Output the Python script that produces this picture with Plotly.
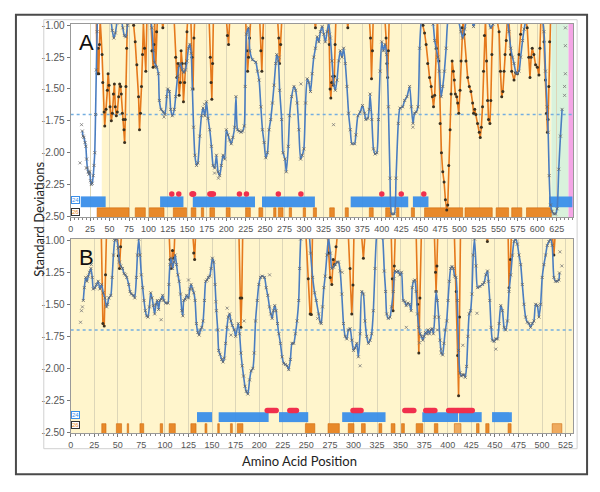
import plotly.graph_objects as go

# ---------------- Panel A data ----------------
A_BLUE = [(15,-1.83),(16,-1.87),(17,-1.88),(18.5,-1.92),(19.5,-1.95),(20.5,-2.05),(21.5,-2.12),(22.5,-2.15),
 (23.5,-2.17),(24.5,-2.15),(25.5,-2.22),(26.5,-2.25),(27.7,-2.24),(29,-2.18),(30,-2.10),(31,-2.0),(32,-1.70),
 (33,-1.35),(34,-1.05),(35.5,-0.85),(40,-0.80),(46,-0.85),(51,-0.93),(53.5,-1.04),(55.5,-1.10),(57.5,-1.06),
 (59.5,-0.98),(62,-0.92),(65,-0.95),(67,-1.02),(69,-1.08),(71,-1.09),(73,-1.0),(75,-0.9),(85,-0.8),(97,-0.85),
 (102,-0.92),(104.3,-1.02),(106.4,-1.20),(107.7,-1.29),(110.7,-1.33),(112.8,-1.38),(114,-1.59),(116.2,-1.66),
 (119.2,-1.68),(121.3,-1.70),(123.5,-1.56),(124.7,-1.50),(126.9,-1.52),(128.6,-1.66),(130.7,-1.71),(133.3,-1.66),
 (135,-1.56),(137.5,-1.40),(139.5,-1.32),(141.5,-1.30),(143.5,-1.35),(145.5,-1.37),(147.5,-1.35),(149.5,-1.28),
 (151.5,-1.18),(153.3,-1.15),(155,-1.22),(156.5,-1.50),(158,-1.80),(159.7,-2.02),(161.8,-2.10),(163.5,-2.08),
 (166,-1.87),(168.2,-1.71),(170.3,-1.65),(172.5,-1.71),(174.6,-1.60),(176.7,-1.73),(178.8,-1.82),(181,-1.95),
 (183.1,-2.10),(185.2,-2.12),(187.4,-2.02),(189.5,-2.15),(191.6,-2.18),(193.7,-2.10),(195.9,-2.02),(198,-2.05),
 (200.1,-1.82),(202.2,-1.86),(204.4,-1.90),(206.5,-1.93),(208.6,-1.88),(210.8,-1.80),(212.5,-1.56),(214.6,-1.82),
 (216.8,-1.83),(219,-1.84),(221,-1.83),(223.2,-1.79),(224.4,-1.48),(226.1,-1.07),(228.7,-1.02),(230.4,-1.20),
 (233.8,-1.27),(238,-1.29),(240.2,-1.36),(242.3,-1.43),(244.5,-1.64),(246.6,-1.82),(248.7,-1.92),(250.8,-2.04),
 (253,-2.00),(255.1,-1.82),(257.2,-1.74),(259.4,-1.61),(261.5,-1.47),(263.6,-1.30),(264.9,-1.23),(267,-1.28),
 (268.7,-1.51),(271.3,-1.74),(273,-2.00),(275.5,-2.05),(277.3,-2.15),(279.8,-1.95),(281.5,-1.71),(284.1,-1.56),
 (287.1,-1.48),(289.2,-1.51),(291.3,-1.61),(293.4,-1.82),(295.6,-2.05),(297.7,-2.02),(299.8,-1.97),(302,-1.61),
 (304.1,-1.42),(306.2,-1.45),(308.4,-1.52),(310.5,-1.38),(312.6,-1.25),(314.7,-1.18),(316.9,-1.09),(319,-1.13),
 (321.1,-1.05),(323.3,-1.01),(325.4,-1.07),(327.5,-1.13),(329.7,-1.05),(331.8,-0.98),(333.9,-1.10),(336,-1.28),
 (338.2,-1.46),(340.3,-1.51),(342.4,-1.43),(344.6,-1.28),(346.7,-1.20),(348.8,-1.25),(351,-1.18),(353.1,-1.30),
 (355.2,-1.48),(357.3,-1.69),(359.5,-1.82),(361.6,-1.93),(365,-1.93),(366.7,-1.86),(369.3,-1.71),(372.3,-1.68),
 (375.2,-1.63),(377.8,-1.69),(379.5,-1.74),(382,-1.73),(383.8,-1.66),(385,-1.54),(387.2,-1.74),(389.3,-1.97),
 (391.4,-2.01),(393.6,-2.00),(395.7,-1.74),(397.8,-1.36),(399.9,-1.13),(402.1,-1.20),(404.2,-1.15),(406.3,-1.23),
 (408.5,-1.64),(410.6,-2.20),(412.7,-2.48),(416.1,-2.48),(418.3,-2.20),(421.2,-1.77),(423.4,-1.65),(426.8,-1.64),
 (429.4,-1.59),(432.4,-1.56),(435.8,-1.48),(438,-1.64),(440.1,-1.77),(442.2,-1.69),(444.3,-1.68),(446.5,-1.64),
 (448.6,-1.18),(450.7,-0.97),(455,-0.85),(462,-0.9),(466,-0.99),(468,-1.12),(470,-1.18),(472,-1.25),(474,-1.36),
 (476.3,-1.56),(478.4,-1.48),(480.5,-1.36),(482.7,-1.18),(484.8,-0.97),(490,-0.85),(498,-0.95),(501.8,-1.05),
 (504,-1.10),(506.5,-1.03),(509,-0.96),(513,-0.93),(516,-0.97),(518,-1.01),(521,-0.95),(530,-0.85),(537,-0.96),
 (540,-1.02),(543,-0.99),(550,-0.88),(560,-0.92),(563.5,-1.05),(565.8,-1.18),(568,-1.25),(570,-1.30),(573,-1.38),
 (576.4,-1.36),(578.5,-1.25),(581,-1.12),(583,-1.03),(585,-0.97),(595,-0.85),(605,-0.9),(608.5,-1.05),
 (610.5,-1.36),(612.6,-1.64),(613.9,-1.84),(615.2,-2.18),(616.9,-2.41),(619,-2.46),(621,-2.48),(623.3,-2.48),
 (625.4,-2.44),(627.5,-2.13),(629.7,-1.87),(631.8,-1.66)]

A_LOOSE = [(636,-1.02),(636,-1.16),(636,-1.38),(635,-1.48),(635,-1.55),(14,-1.78),(12,-2.08),(20,-2.12),
 (120,-1.72),(172,-1.62),(185,-2.16),(190,-2.20),(268,-1.25),(296,-1.46),(333,-1.07),(338,-1.78),(440,-1.80)]

A_ORANGE = [
 [(33,-0.95),(34,-1.38),(35.3,-1.18),(36.1,-1.38),(37,-1.15),(38,-0.95),(40.4,-1.23),(41.3,-1.45),(43,-1.68),
  (43.8,-1.79),(45.5,-1.66),(47.2,-1.51),(48.1,-1.38),(49.3,-1.47),(50.6,-1.64),(52.3,-1.75),(53.6,-1.69),
  (54.9,-1.54),(56.2,-1.46),(57.4,-1.64),(58.7,-1.71),(60,-1.68),(61.7,-1.56),(63,-1.46),(64.3,-1.48),
  (65.1,-1.54),(66.4,-1.69),(67.7,-1.74),(68.5,-1.82),(69.4,-1.92),(70.2,-1.74),(71.1,-1.48),(72,-1.18),
  (73,-0.95),(76,-0.9),(79,-0.95),(81,-1.0),(83,-1.13),(85.1,-1.31),(87.3,-1.56),(88.5,-1.82),(89.8,-1.69),
  (91.1,-1.48),(92.4,-1.23),(93.5,-0.98),(95,-1.18),(96.6,-1.36),(98,-0.95)],
 [(103,-0.95),(104.5,-1.20),(106,-1.33),(107,-1.15),(108,-0.98),(109.4,-1.32),(110.5,-1.05),(111.5,-0.95)],
 [(117,-0.95),(118.5,-1.02),(120,-0.95)],
 [(133,-0.95),(135,-1.25),(136.5,-1.41),(138,-1.30),(139.5,-1.55),(141,-1.45),(142,-1.20),(143.5,-1.30),
  (145,-1.60),(146.5,-1.45),(148,-1.30),(149.5,-1.05),(150.5,-0.95)],
 [(154.5,-0.95),(156,-1.25),(157.3,-1.50),(158.5,-1.10),(159.5,-0.95)],
 [(178,-0.95),(179.5,-1.25),(180.5,-1.45),(181.5,-1.58),(182.5,-1.30),(183.5,-0.95)],
 [(200,-0.95),(201.5,-1.08),(203,-1.15),(204.5,-0.95)],
 [(225,-0.95),(226.5,-1.20),(227.5,-1.36),(228.7,-1.25),(230,-1.10),(231.5,-0.95)],
 [(243,-0.95),(244.5,-1.20),(245.8,-1.36),(247,-1.10),(248,-0.95)],
 [(266,-0.95),(267.5,-1.10),(268.5,-1.30),(270,-1.15),(271.5,-0.95)],
 [(313,-0.95),(314.7,-1.02),(316,-0.95)],
 [(331,-0.95),(332.5,-1.15),(333.5,-1.50),(334.5,-1.57),(335.5,-1.45),(337,-1.40),(338,-1.47),(339,-1.40),
  (340,-1.15),(341,-0.95)],
 [(355,-0.95),(356.3,-1.02),(357.5,-0.95)],
 [(384,-0.95),(385.5,-1.10),(386.8,-1.42),(388,-1.20),(389,-0.95)],
 [(404,-0.95),(405.5,-1.10),(406.5,-1.30),(407.5,-1.41),(408.5,-1.20),(409.5,-0.95)],
 [(450.7,-0.95),(453,-1.00),(455,-1.06),(457,-1.15),(459,-1.30),(461.4,-1.41),(463.5,-1.48),(465,-1.56),
  (466.5,-1.64),(468,-1.55),(470,-1.18),(471.5,-0.95),(473.3,-1.28),(475,-1.77),(476.7,-2.00),(478.4,-2.15),
  (480.1,-2.23),(481.8,-2.37),(483.5,-2.45),(484.8,-2.41),(486.1,-2.10),(487.8,-1.82),(489.1,-1.54),
  (490.4,-1.28),(492,-1.36),(493.3,-1.43),(494.6,-1.54),(496.3,-1.56),(497.6,-1.61),(498.9,-1.69),
  (500.6,-1.51),(501.9,-1.28),(503,-1.02),(504.5,-0.95),(506,-1.07),(508.2,-1.28),(510.4,-1.41),(512.5,-1.48),
  (514.6,-1.52),(516.8,-1.61),(518,-1.69),(519.5,-1.66),(521,-1.70),(523.1,-1.77),(525.3,-1.84),(526.6,-1.88),
  (528,-1.80),(529.5,-1.64),(530.8,-1.36),(532,-1.08),(533.3,-0.95),(534.7,-1.28),(536,-1.59),(537.2,-1.74),
  (539,-1.77),(540.2,-1.59),(541.5,-1.23),(543,-0.95),(547,-0.92),(550.8,-1.05),(552.5,-1.36),(554.2,-1.56),
  (555.7,-1.52),(557.2,-1.36),(558.5,-1.23),(560,-1.12),(561.5,-0.95),(563.5,-0.97),(565.5,-1.23),(567,-1.36),
  (570,-1.43),(572.1,-1.37),(574.3,-1.38),(576.4,-1.23),(578.5,-1.07),(580,-0.95),(584,-0.92),(587,-1.02),
  (589,-1.25),(590.5,-1.41),(592,-1.25),(593.4,-1.18),(595.5,-1.23),(597.7,-1.31),(600,-1.33),(602,-1.39),
  (603.3,-1.18),(604.5,-0.95),(607,-0.92),(608.5,-1.13),(610.5,-1.43),(611.8,-1.69),(613,-1.84),(613.8,-1.74),
  (614.7,-1.48),(615.8,-1.13),(617,-0.95)]]

A_BLUE_BAND = [(13,45),(115,145),(157,237),(246,314),(360,434),(440,460),(615,645)]
A_ORANGE_BAND = [(34,75),(83,96),(101,120),(132,149),(155,161),(168,171),(179,185),(200,205),(225,231),
 (242,247),(261,264),(267,273),(281,284),(299,302),(312,316),(333,339),(353,357),(384,389),(405,412),
 (419,422),(438,442),(455,504),(507,542),(547,563),(567,580),(586,618)]
A_RED = [(130,130),(139,139),(156,158),(179,183.5),(217,217),(226,226),(267,267),(296,296),(400,400),(425,425),(454,454)]
A_REGIONS = [(0,40,'#ffffff'),(40,618,'#fff5cc'),(618,640,'#d9f2dc'),(640,646,'#f4a6e6')]

# ---------------- Panel B data ----------------
B_BLUE = [(13.4,-1.47),(14.5,-1.37),(15.9,-1.29),(17.3,-1.32),(18.7,-1.28),(20,-1.25),(21.5,-1.22),(22.9,-1.29),
 (24,-1.38),(25.7,-1.37),(27.5,-1.345),(29.2,-1.32),(31,-1.38),(32.8,-1.345),(34.5,-1.41),(36.3,-1.45),(38,-1.52),
 (39.1,-1.50),(40.5,-1.45),(42.6,-1.43),(44,-1.29),(45.4,-1.115),(46.9,-1.00),(48.6,-0.99),(50.4,-1.06),
 (51.8,-1.17),(53.2,-1.20),(55,-1.22),(56.7,-1.26),(58.1,-1.27),(59.5,-1.29),(61.6,-1.345),(63,-1.40),
 (64.4,-1.42),(66.6,-1.43),(68,-1.45),(69.7,-1.29),(70.8,-1.115),(72.2,-0.99),(73.6,-1.115),(75,-1.27),
 (76.4,-1.37),(77.8,-1.47),(79.2,-1.55),(80.6,-1.59),(82,-1.60),(83.5,-1.52),(84.9,-1.41),(86.3,-1.45),
 (87.7,-1.51),(89.1,-1.575),(90.5,-1.50),(91.9,-1.47),(93.3,-1.54),(94.7,-1.47),(96.1,-1.46),(97.5,-1.43),
 (98.9,-1.47),(101,-1.49),(103.2,-1.49),(104.2,-1.345),(105.3,-1.19),(106.7,-1.14),(108.1,-1.22),(109.5,-1.17),
 (110.9,-1.115),(112.3,-1.19),(113.7,-1.27),(115.1,-1.32),(116.5,-1.42),(117.9,-1.55),(119,-1.59),(120,-1.47),
 (121.5,-1.46),(122.9,-1.43),(125,-1.45),(126.4,-1.38),(127.8,-1.345),(129.2,-1.38),(130.6,-1.41),(132,-1.47),
 (133.4,-1.65),(134.9,-1.72),(136.3,-1.74),(137.7,-1.70),(139.1,-1.68),(140.5,-1.63),(141.9,-1.47),(143.3,-1.32),
 (144.7,-1.31),(146.1,-1.29),(147.5,-1.28),(148.9,-1.22),(150.3,-1.14),(151.7,-1.17),(153.2,-1.345),(154.6,-1.55),
 (156,-1.70),(157,-1.86),(158.4,-1.89),(160.2,-1.93),(161.6,-1.95),(163,-1.92),(164.4,-1.805),(165.8,-1.68),
 (167.2,-1.60),(168.6,-1.575),(170,-1.63),(171.5,-1.665),(173.6,-1.70),(175,-1.75),(177.8,-1.65),(179.2,-1.73),
 (180.6,-1.88),(182,-1.98),(183.4,-2.06),(184.9,-2.14),(186.3,-2.18),(188,-2.20),(189.8,-2.09),(191.5,-2.02),
 (193.3,-2.00),(194.7,-1.88),(196.1,-1.63),(197.9,-1.47),(199.6,-1.345),(201.4,-1.29),(203.2,-1.28),
 (205.6,-1.29),(207.4,-1.37),(209.1,-1.43),(210.9,-1.52),(212.3,-1.575),(213.7,-1.61),(215.1,-1.55),
 (216.5,-1.51),(217.9,-1.55),(219.4,-1.65),(220.8,-1.73),(222.5,-1.805),(224.3,-1.91),(226,-1.96),(227.8,-1.97),
 (229.6,-1.98),(231.3,-2.01),(233.1,-1.93),(234.8,-1.805),(236.6,-1.805),(238.4,-1.73),(240.1,-1.63),
 (241.9,-1.47),(242.9,-1.22),(244,-0.99),(246,-0.85),(250,-0.85),(253,-0.95),(254.5,-1.10),(256.7,-1.29),
 (258.8,-1.41),(260.5,-1.47),(263,-1.575),(264.8,-1.64),(265.8,-1.65),(267.2,-1.52),(268.6,-1.37),(270,-1.28),
 (271.8,-1.115),(273.5,-0.98),(275.5,-1.1),(277,-1.22),(278.8,-1.21),(280.6,-1.19),(282.4,-1.17),(284.1,-1.17),
 (285.9,-1.24),(287.6,-1.42),(289.4,-1.65),(291.2,-1.75),(292.9,-1.77),(294.7,-1.70),(296.4,-1.69),(298.2,-1.78),
 (300,-1.86),(301.7,-1.84),(303.5,-1.805),(305.2,-1.91),(307,-1.73),(308.8,-1.40),(310.5,-1.42),(312.3,-1.63),
 (314,-1.75),(315.8,-1.805),(317.6,-1.78),(319.3,-1.73),(321.1,-1.55),(322.8,-1.22),(324.6,-0.96),(328,-0.85),
 (331,-0.98),(332.7,-1.24),(334.1,-1.40),(335.2,-1.575),(336.9,-1.61),(338.7,-1.60),(340.4,-1.52),(342.2,-1.40),
 (344,-1.24),(345.7,-1.25),(347.5,-1.24),(349.2,-1.27),(351,-1.25),(352.8,-1.47),(354.5,-1.48),(355.9,-1.51),
 (357.7,-1.49),(359.4,-1.50),(361.2,-1.55),(362.3,-1.37),(363.7,-1.32),(365.1,-1.31),(366.5,-1.40),(367.9,-1.575),
 (369.3,-1.68),(370.7,-1.73),(372.1,-1.75),(373.5,-1.78),(374.9,-1.75),(376.3,-1.72),(377.7,-1.73),(379.2,-1.70),
 (380.6,-1.73),(382,-1.70),(383.4,-1.69),(384.8,-1.73),(386.2,-1.60),(387.6,-1.40),(389,-1.47),(390.4,-1.60),
 (391.8,-1.78),(393.2,-1.88),(394.6,-1.895),(396,-1.805),(397.5,-1.70),(398.9,-1.63),(400.3,-1.47),(401.7,-1.32),
 (403.1,-1.22),(404.5,-1.205),(405.9,-1.22),(407.3,-1.28),(408.7,-1.29),(410.1,-1.47),(411.5,-1.86),(413,-2.035),
 (414.4,-2.06),(415.8,-2.05),(417.2,-2.05),(418.6,-2.07),(420,-1.985),(421.4,-1.75),(422.8,-1.575),(424.2,-1.55),
 (425.6,-1.42),(427,-1.115),(428.4,-0.99),(430,-1.2),(431.6,-1.37),(434,-1.36),(436.9,-1.345),(438.6,-1.33),
 (440.4,-1.27),(442.2,-1.24),(443.2,-1.32),(444.6,-1.47),(446,-1.68),(447.4,-1.78),(449.2,-1.79),(451,-1.77),
 (452.7,-1.77),(454.5,-1.65),(456.2,-1.51),(458,-1.55),(459.8,-1.68),(461.5,-1.70),(463.3,-1.63),(465,-1.40),
 (466.8,-1.27),(468.6,-1.115),(470.3,-1.01),(472.1,-0.99),(473.8,-1.03),(475.6,-1.115),(477.4,-1.19),
 (479.1,-1.345),(480.9,-1.50),(482.6,-1.60),(484.4,-1.64),(486.2,-1.65),(487.9,-1.68),(489.7,-1.65),
 (491.4,-1.63),(493.2,-1.50),(495,-1.51),(496.7,-1.60),(498.5,-1.50),(500.2,-1.29),(502,-1.19),(503.8,-1.115),
 (505.5,-1.04),(507.3,-1.01),(509,-0.99),(510.8,-1.04),(512.6,-1.29),(514.3,-1.32),(516.1,-1.32),(517.8,-1.31),
 (518.5,-1.255)]

B_LOOSE = [(10.5,-1.64),(11.5,-1.55),(12.5,-1.52),(22,-1.19),(46,-0.99),(96,-1.62),(125,-1.31),(154,-1.48),
 (166,-1.53),(170,-1.74),(184,-1.63),(211,-1.27),(262,-1.61),(288,-1.25),(307,-1.98),(343,-1.30),(356,-1.68),
 (370,-1.80),(389,-1.70),(393,-1.85),(416,-1.82),(431,-1.57),(451,-1.85),(521,-1.20),(519,-1.09)]

B_ORANGE = [
 [(32.5,-0.95),(34.2,-1.65),(35.6,-1.67),(37,-1.27),(38,-0.95)],
 [(49.5,-0.95),(50.5,-1.12),(51.8,-1.22),(53,-1.05),(54,-0.95)],
 [(104.5,-0.95),(105.5,-1.15),(106.7,-1.22),(108,-1.08),(109.5,-1.14),(110.5,-0.95)],
 [(129.5,-0.95),(130.5,-1.10),(131.5,-1.15),(132.5,-0.95)],
 [(178.5,-0.95),(179.8,-1.45),(180.6,-1.68),(181.5,-1.45),(182.5,-0.95)],
 [(249.5,-0.95),(252,-1.30),(254,-1.575),(255.3,-1.58),(256.5,-0.95)],
 [(272.5,-0.95),(274,-1.10),(275.3,-1.29),(277,-1.345),(278.5,-1.15),(280,-1.19),(281.5,-1.05),(283,-0.95)],
 [(294.5,-0.95),(296.4,-1.22),(298.2,-1.575),(299.5,-1.35),(300.5,-0.95)],
 [(308.5,-0.95),(310.5,-1.14),(312.3,-0.95)],
 [(340,-0.95),(341.2,-1.30),(342,-1.55),(343.3,-1.20),(344.3,-0.95)],
 [(366.5,-0.95),(368,-1.50),(369.3,-1.88),(370.5,-1.45),(372,-0.95)],
 [(385.8,-0.95),(387,-1.25),(387.6,-1.40),(388.5,-1.20),(389.4,-0.95)],
 [(407,-0.95),(409,-1.40),(410.5,-1.90),(411.5,-2.215),(412.5,-1.60),(413.5,-0.95)],
 [(440.5,-0.95),(442,-1.01),(443.5,-0.95)],
 [(464,-0.95),(465,-1.37),(466.5,-1.15),(467.5,-0.95)],
 [(511,-0.95),(512.6,-1.115),(514,-0.95)]]

B_BLUE_BAND = [(134,150),(157,210),(221,252),(288,334),(373,411),(412,436),(447,468)]
B_ORANGE_BAND = [(33,37.5),(48.5,54),(60,61.5),(73.5,77.5),(95,97.5),(104.5,111),(127.5,133),(142.5,144.5),
 (156,157.7),(169.5,171.5),(176.8,182.7),(249,259),(273,285),(294.5,300.5),(308.5,312.5),(327,330),(340,344),
 (351,354),(366.5,373.5),(385.8,389.5),(430.5,433.2),(440.3,443.8),(464,467.2)]
B_ORANGE_BAND_LIGHT = [(407,414),(510.8,521)]
B_RED = [(208.5,218),(232.5,239.5),(299.5,308),(354.5,364),(376.7,386.3),(401,426)]
B_REGIONS = [(0,533,'#fff5cc')]

X_TICKS_A = list(range(0, 626, 25))
X_TICKS_B = list(range(0, 526, 25))
Y_TICKS = [-1.00, -1.25, -1.50, -1.75, -2.00, -2.25, -2.50]
THRESHOLD = -1.70

# ---------------- build ----------------
BLUE_LINE = '#4a7dc0'
ORANGE_LINE = '#e5791c'
BAND_BLUE = '#3a8fea'
BAND_ORANGE = '#e8892a'
RED = '#f0304e'

def seg_xy(segs):
    xs, ys = [], []
    for s in segs:
        for x, y in s:
            xs.append(x); ys.append(y)
        xs.append(None); ys.append(None)
    return xs, ys

def red_points(ranges):
    xs = []
    for a, b in ranges:
        n = max(1, int(round((b - a) / 1.3)) + 1)
        if n == 1:
            xs.append(a)
        else:
            xs += [a + (b - a) * i / (n - 1) for i in range(n)]
    return xs

fig = go.Figure()

panels = [
    dict(xa='x', ya='y', blue=A_BLUE, loose=A_LOOSE, orange=A_ORANGE, bband=A_BLUE_BAND,
         oband=A_ORANGE_BAND, olight=[], red=A_RED, red_y=-2.325, bb=(-2.428, -2.343),
         ob=(-2.52, -2.433)),
    dict(xa='x2', ya='y2', blue=B_BLUE, loose=B_LOOSE, orange=B_ORANGE, bband=B_BLUE_BAND,
         oband=B_ORANGE_BAND, olight=B_ORANGE_BAND_LIGHT, red=B_RED, red_y=-2.33, bb=(-2.42, -2.342),
         ob=(-2.52, -2.432)),
]

for p in panels:
    xa, ya = p['xa'], p['ya']
    fig.add_trace(go.Bar(x=[(a + b) / 2 for a, b in p['bband']], width=[b - a for a, b in p['bband']],
                         y=[p['bb'][1] - p['bb'][0]] * len(p['bband']), base=p['bb'][0],
                         marker=dict(color=BAND_BLUE, line=dict(width=0)), opacity=0.95,
                         xaxis=xa, yaxis=ya, hoverinfo='skip'))
    for bands, col in ((p['oband'], BAND_ORANGE), (p['olight'], '#efaa5e')):
        if not bands:
            continue
        fig.add_trace(go.Bar(x=[(a + b) / 2 for a, b in bands], width=[b - a for a, b in bands],
                             y=[p['ob'][1] - p['ob'][0]] * len(bands), base=p['ob'][0],
                             marker=dict(color=col, line=dict(width=0.6, color='#d06a0c')),
                             xaxis=xa, yaxis=ya, hoverinfo='skip'))
    rx = red_points(p['red'])
    fig.add_trace(go.Scatter(x=rx, y=[p['red_y']] * len(rx), mode='markers',
                             marker=dict(color=RED, size=5.5), xaxis=xa, yaxis=ya, hoverinfo='skip'))
    fig.add_trace(go.Scatter(x=[0, 700], y=[THRESHOLD, THRESHOLD], mode='lines',
                             line=dict(color='#74aee0', width=1.5, dash='3px,3px'),
                             xaxis=xa, yaxis=ya, hoverinfo='skip'))
    ox, oy = seg_xy(p['orange'])
    fig.add_trace(go.Scatter(x=ox, y=oy, mode='lines+markers',
                             line=dict(color=ORANGE_LINE, width=1.6),
                             marker=dict(color='#3a3020', size=3),
                             xaxis=xa, yaxis=ya, hoverinfo='skip', connectgaps=False))
    bx = [a for a, _ in p['blue']]
    by = [b for _, b in p['blue']]
    fig.add_trace(go.Scatter(x=bx, y=by, mode='lines+markers',
                             line=dict(color=BLUE_LINE, width=1.6, shape='spline', smoothing=0.6),
                             marker=dict(color='#666666', size=3, symbol='x-thin',
                                         line=dict(width=0.8, color='#666666')),
                             xaxis=xa, yaxis=ya, hoverinfo='skip'))
    fig.add_trace(go.Scatter(x=[a for a, _ in p['loose']], y=[b for _, b in p['loose']], mode='markers',
                             marker=dict(color='#777777', size=3, symbol='x-thin',
                                         line=dict(width=0.8, color='#777777')),
                             xaxis=xa, yaxis=ya, hoverinfo='skip'))

shapes = []
for regs, xr, yr in ((A_REGIONS, 'x', 'y'), (B_REGIONS, 'x2', 'y2')):
    for a, b, c in regs:
        shapes.append(dict(type='rect', xref=xr, yref=yr + ' domain', x0=a, x1=b, y0=0, y1=1,
                           fillcolor=c, line=dict(width=0), layer='below'))
shapes.append(dict(type='rect', xref='paper', yref='paper', x0=41/600, x1=577/600,
                   y0=1-453/492, y1=1-16/492, line=dict(color='#d0d0d0', width=1)))
shapes.append(dict(type='rect', xref='paper', yref='paper', x0=13/600, x1=587/600,
                   y0=1-479/492, y1=1-11/492, line=dict(color='#4a4a4a', width=2)))

xdom = [68/600, 573/600]
tickfont = dict(family='Liberation Sans, Arial', size=9, color='#555555')
ytickfont = dict(family='Liberation Sans, Arial', size=10, color='#555555')

def xaxis(rng, ticks, anchor):
    return dict(domain=xdom, range=rng, anchor=anchor, tickmode='array', tickvals=ticks,
                ticktext=[str(t) for t in ticks], tickfont=tickfont, ticks='outside', ticklen=3,
                tickcolor='#777777', showgrid=True, gridcolor='#ddd6b8', gridwidth=1,
                zeroline=False, showline=True, linecolor='#999999', mirror=True,
                minor=dict(dtick=5, ticks='outside', ticklen=2, tickcolor='#888888', showgrid=False))

def yaxis(dom, anchor):
    return dict(domain=dom, range=[-2.505, -0.987], anchor=anchor, tickmode='array', tickvals=Y_TICKS,
                ticktext=['%.2f' % v for v in Y_TICKS], tickfont=ytickfont, ticks='outside', ticklen=3,
                tickcolor='#777777', showgrid=False, zeroline=False, showline=True,
                linecolor='#999999', mirror=True)

annotations = [
    dict(text='A', xref='x domain', yref='y domain', x=0.012, y=0.975, xanchor='left', yanchor='top',
         showarrow=False, font=dict(family='Liberation Sans, Arial', size=22, color='#111111')),
    dict(text='B', xref='x2 domain', yref='y2 domain', x=0.012, y=0.975, xanchor='left', yanchor='top',
         showarrow=False, font=dict(family='Liberation Sans, Arial', size=22, color='#111111')),
    dict(text='Standard Deviations', xref='paper', yref='paper', x=36/600, y=1-219/492, textangle=-90,
         xanchor='center', yanchor='middle',
         showarrow=False, font=dict(family='Lato, Open Sans', size=13, color='#222222')),
    dict(text='Amino Acid Position', xref='paper', yref='paper', x=298/600, y=1-466/492,
         xanchor='center', yanchor='middle',
         showarrow=False, font=dict(family='Lato, Open Sans', size=13, color='#222222')),
]
for xr, yr, y24, y26 in (('x', 'y', -2.372, -2.462), ('x2', 'y2', -2.362, -2.445)):
    annotations.append(dict(text='24', xref=xr, yref=yr, x=0.5, y=y24, xanchor='left', showarrow=False,
                            font=dict(size=6, color='#3a8fea', family='Liberation Sans'),
                            bordercolor='#3a8fea', borderwidth=1, borderpad=0, bgcolor='#ffffff'))
    annotations.append(dict(text='26', xref=xr, yref=yr, x=0.5, y=y26, xanchor='left', showarrow=False,
                            font=dict(size=6, color='#e8892a', family='Liberation Sans'),
                            bordercolor='#333333', borderwidth=1, borderpad=0, bgcolor='#ffffff'))

fig.update_layout(
    width=600, height=492, autosize=False, margin=dict(l=0, r=0, t=0, b=0),
    paper_bgcolor='#ffffff', plot_bgcolor='rgba(0,0,0,0)', showlegend=False, barmode='overlay',
    xaxis=xaxis([0, 646], X_TICKS_A, 'y'),
    yaxis=yaxis([1-217/492, 1-20/492], 'x'),
    xaxis2=xaxis([0, 533], X_TICKS_B, 'y2'),
    yaxis2=yaxis([1-437/492, 1-239/492], 'x2'),
    shapes=shapes, annotations=annotations,
)

fig.write_html('out.html', config={'displayModeBar': False},
               post_script="document.body.style.margin='0px';document.body.style.overflow='hidden';")
